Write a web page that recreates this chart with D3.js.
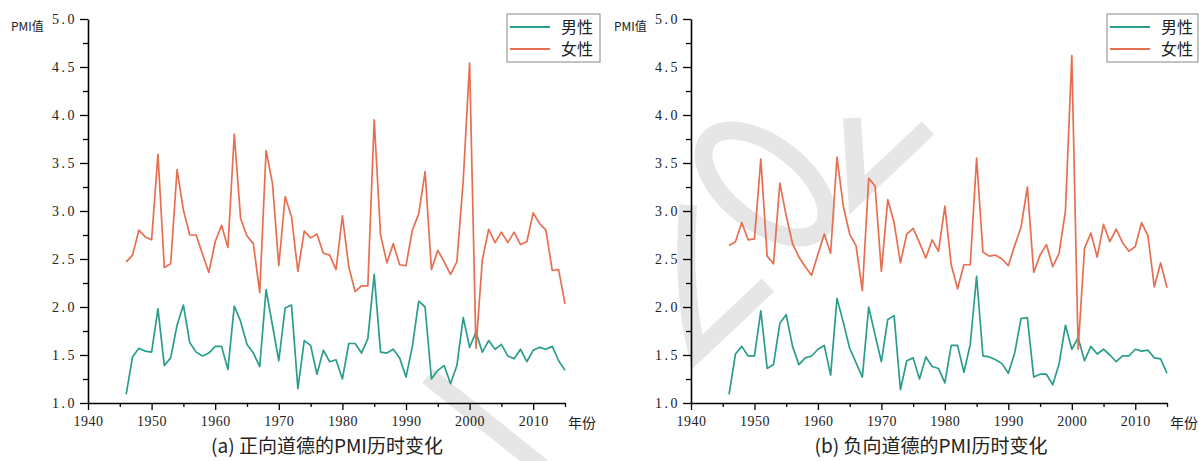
<!DOCTYPE html>
<html>
<head>
<meta charset="utf-8">
<script src="https://cdn.jsdelivr.net/npm/d3@7/dist/d3.min.js"></script>
<style>
  html, body { margin: 0; padding: 0; background: #fff; }
  svg { display: block; }
</style>
</head>
<body>
<svg id="chart" width="1199" height="461"></svg>
<script>
// ---------------- DATA ----------------
const yearStart = 1946, yearEnd = 2015;
const years = d3.range(yearStart, yearEnd + 1);
const seriesNames = ["男性", "女性"];
const panelCaptions = ["(a) 正向道德的PMI历时变化", "(b) 负向道德的PMI历时变化"];
const yTickValues = [1.0, 1.5, 2.0, 2.5, 3.0, 3.5, 4.0, 4.5, 5.0];
const xTickValues = [1940, 1950, 1960, 1970, 1980, 1990, 2000, 2010];
const yAxisLabel = "PMI值";
const xAxisLabel = "年份";

// (a) positive morality
const posMale = [1.09,1.48,1.57,1.54,1.53,1.98,1.39,1.47,1.81,2.02,1.63,1.53,1.49,1.52,1.59,1.59,1.35,2.01,1.85,1.61,
  1.52,1.38,2.18,1.81,1.44,1.99,2.02,1.15,1.65,1.60,1.30,1.55,1.43,1.45,1.25,1.62,1.62,1.52,1.67,2.34,
  1.53,1.52,1.56,1.47,1.27,1.59,2.06,2.00,1.25,1.34,1.39,1.20,1.39,1.89,1.58,1.74,1.53,1.65,1.56,1.61,
  1.49,1.46,1.56,1.43,1.55,1.58,1.56,1.59,1.44,1.34];
const posFemale = [2.47,2.54,2.80,2.73,2.70,3.59,2.41,2.45,3.43,3.01,2.75,2.75,2.55,2.36,2.68,2.85,2.62,3.80,2.92,2.74,
  2.66,2.15,3.63,3.29,2.43,3.15,2.94,2.37,2.79,2.72,2.76,2.56,2.54,2.39,2.95,2.42,2.16,2.22,2.22,3.95,
  2.75,2.46,2.66,2.44,2.43,2.80,2.97,3.41,2.39,2.59,2.47,2.34,2.47,3.32,4.54,1.57,2.49,2.81,2.67,2.78,
  2.67,2.78,2.65,2.68,2.98,2.87,2.80,2.38,2.39,2.03];
// (b) negative morality
const negMale = [1.09,1.51,1.59,1.49,1.49,1.96,1.36,1.40,1.83,1.92,1.59,1.40,1.47,1.49,1.56,1.60,1.29,2.09,1.84,1.57,
  1.42,1.27,2.00,1.71,1.43,1.87,1.91,1.14,1.44,1.47,1.25,1.48,1.38,1.36,1.21,1.60,1.60,1.32,1.61,2.32,
  1.49,1.48,1.45,1.41,1.31,1.52,1.88,1.89,1.27,1.30,1.30,1.19,1.41,1.81,1.56,1.68,1.44,1.59,1.51,1.56,
  1.50,1.43,1.49,1.49,1.56,1.54,1.55,1.47,1.46,1.31];
const negFemale = [2.64,2.68,2.88,2.70,2.71,3.54,2.53,2.45,3.29,2.95,2.66,2.52,2.42,2.33,2.55,2.76,2.56,3.56,3.05,2.76,
  2.64,2.17,3.34,3.26,2.37,3.12,2.88,2.46,2.76,2.82,2.67,2.51,2.70,2.58,3.05,2.44,2.19,2.44,2.44,3.55,
  2.57,2.53,2.54,2.50,2.43,2.64,2.83,3.25,2.36,2.54,2.65,2.42,2.56,3.00,4.62,1.56,2.61,2.77,2.52,2.86,
  2.68,2.81,2.67,2.58,2.63,2.88,2.74,2.21,2.46,2.20];

// ---------------- STYLE / LAYOUT ----------------
const colors = ["#2a9d8c", "#e76f51"];
const numFont = "'Liberation Serif', 'DejaVu Serif', serif";
const cjkFont = "'Noto Sans CJK SC', 'Noto Sans', sans-serif";

const svg = d3.select("#chart");

// faint watermark drawn behind everything
const wm = svg.append("g").attr("fill", "none").attr("stroke", "#e6e6e6").attr("stroke-width", 18);
wm.append("path").attr("d", "M428,376 L548,472");
wm.append("ellipse").attr("cx", 765).attr("cy", 184).attr("rx", 72).attr("ry", 38)
  .attr("transform", "rotate(38,765,184)");
wm.append("path").attr("d", "M688,205 Q682,290 697,352 L768,285");
wm.append("path").attr("d", "M852,118 L857,195 L928,128");

const panels = [
  { left: 88, right: 565, male: posMale, female: posFemale, caption: panelCaptions[0], capX: 327,
    legend: { x: 507, y: 14, w: 93, h: 48 } },
  { left: 691, right: 1167, male: negMale, female: negFemale, caption: panelCaptions[1], capX: 931,
    legend: { x: 1107, y: 14, w: 91, h: 48 } }
];
const plotTop = 19, plotBottom = 403;

panels.forEach(p => {
  const g = svg.append("g");
  const x = d3.scaleLinear().domain([1940, 2015]).range([p.left, p.right]);
  const y = d3.scaleLinear().domain([1, 5]).range([plotBottom, plotTop]);

  // minor ticks
  const minorY = d3.range(1.25, 5, 0.5);
  const minorX = [1945, 1955, 1965, 1975, 1985, 1995, 2005, 2015];
  g.append("g").attr("transform", `translate(${p.left},0)`)
    .call(d3.axisLeft(y).tickValues(minorY).tickSize(5).tickFormat(""))
    .call(a => a.select(".domain").remove())
    .call(a => a.selectAll("line").attr("stroke", "#000").attr("stroke-width", 1.3));
  g.append("g").attr("transform", `translate(0,${plotBottom})`)
    .call(d3.axisBottom(x).tickValues(minorX).tickSize(4).tickFormat(""))
    .call(a => a.select(".domain").remove())
    .call(a => a.selectAll("line").attr("stroke", "#000").attr("stroke-width", 1.3));

  // major y axis
  const ya = g.append("g").attr("transform", `translate(${p.left},0)`)
    .call(d3.axisLeft(y).tickValues(yTickValues).tickSize(8).tickSizeOuter(0).tickPadding(3).tickFormat(d3.format(".1f")));
  ya.select(".domain").attr("stroke", "#000").attr("stroke-width", 1.6);
  ya.selectAll(".tick line").attr("stroke", "#000").attr("stroke-width", 1.3);
  ya.selectAll(".tick text").attr("font-family", numFont).attr("font-size", 14)
    .attr("letter-spacing", "2.5px").attr("fill", "#222");

  // major x axis
  const xa = g.append("g").attr("transform", `translate(0,${plotBottom})`)
    .call(d3.axisBottom(x).tickValues(xTickValues).tickSize(7).tickSizeOuter(0).tickPadding(6).tickFormat(d3.format("d")));
  xa.select(".domain").attr("stroke", "#000").attr("stroke-width", 1.6);
  xa.selectAll(".tick line").attr("stroke", "#000").attr("stroke-width", 1.3);
  xa.selectAll(".tick text").attr("font-family", numFont).attr("font-size", 14)
    .attr("letter-spacing", "0.5px").attr("fill", "#222");

  // axis labels
  g.append("text").attr("x", p.left - 77).attr("y", 31).attr("font-family", cjkFont)
    .attr("font-size", 12).attr("fill", "#222").text(yAxisLabel);
  g.append("text").attr("x", p.right + 3).attr("y", 428).attr("font-family", cjkFont)
    .attr("font-size", 14).attr("fill", "#222").text(xAxisLabel);

  // lines
  const line = d3.line().x((d, i) => x(years[i])).y(d => y(d));
  [p.male, p.female].forEach((s, k) => {
    g.append("path").datum(s).attr("d", line).attr("fill", "none")
      .attr("stroke", colors[k]).attr("stroke-width", 1.7).attr("stroke-linejoin", "round");
  });

  // legend
  const L = p.legend;
  const lg = g.append("g");
  lg.append("rect").attr("x", L.x).attr("y", L.y).attr("width", L.w).attr("height", L.h)
    .attr("fill", "#fff").attr("stroke", "#888").attr("stroke-width", 1);
  seriesNames.forEach((nm, k) => {
    const yy = L.y + 13 + k * 22;
    lg.append("line").attr("x1", L.x + 3).attr("x2", L.x + 43).attr("y1", yy).attr("y2", yy)
      .attr("stroke", colors[k]).attr("stroke-width", 2);
    lg.append("text").attr("x", L.x + 54).attr("y", yy).attr("dy", "0.36em")
      .attr("font-family", cjkFont).attr("font-size", 16).attr("fill", "#222").text(nm);
  });

  // caption
  g.append("text").attr("x", p.capX).attr("y", 453).attr("text-anchor", "middle")
    .attr("font-family", cjkFont).attr("font-size", 19).attr("fill", "#222").text(p.caption);
});
</script>
</body>
</html>
